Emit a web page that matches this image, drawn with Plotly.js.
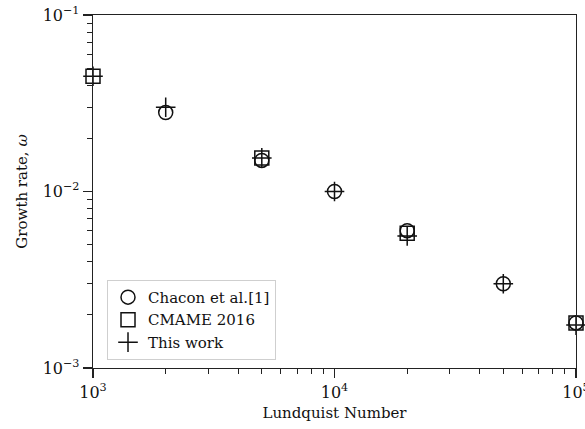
<!DOCTYPE html>
<html>
<head>
<meta charset="utf-8">
<script src="https://cdn.plot.ly/plotly-3.0.1.min.js"></script>
<style>
  html, body { margin: 0; padding: 0; background: #fff; }
  #chart { width: 585px; height: 429px; }
</style>
</head>
<body>
<div id="chart"></div>
<script>
// Growth rate vs. Lundquist number, three data sources
const chaconS = [2000, 5000, 10000, 20000, 50000, 100000];
const chaconW = [0.028, 0.0150, 0.0100, 0.0060, 0.0030, 0.0018];

const cmameS = [1000, 5000, 20000, 100000];
const cmameW = [0.045, 0.0155, 0.0058, 0.0018];

const thisS = [1000, 2000, 5000, 10000, 20000, 50000, 100000];
const thisW = [0.045, 0.030, 0.0155, 0.0100, 0.0056, 0.0030, 0.00175];

const xTickVals = [1e3, 1e4, 1e5];
const xTickText = ['10<sup>3</sup>', '10<sup>4</sup>', '10<sup>5</sup>'];
const yTickVals = [1e-3, 1e-2, 1e-1];
const yTickText = ['10<sup>\u22123</sup>', '10<sup>\u22122</sup>', '10<sup>\u22121</sup>'];

// intermediate ticks 2..9 within each decade
function minorLogTicks(lo, hi) {
  const out = [];
  for (let p = lo; p < hi; p++) {
    for (let d = 2; d <= 9; d++) out.push(d * Math.pow(10, p));
  }
  return out;
}

// a hair of padding so points sitting exactly on a decade edge stay visible
const EPS = 1e-6;
const xRange = [3 - EPS, 5 + EPS];
const yRange = [-3 - EPS, -1 + EPS];

const FONT = 'DejaVu Serif, serif';
const INK = '#111';

const mk = (symbol) => ({
  symbol: symbol, size: 14, color: INK,
  line: { color: INK, width: 1.5 }
});

const traces = [
  { x: chaconS, y: chaconW, name: 'Chacon et al.[1]', mode: 'markers',
    type: 'scatter', cliponaxis: false, marker: mk('circle-open') },
  { x: cmameS, y: cmameW, name: 'CMAME 2016', mode: 'markers',
    type: 'scatter', cliponaxis: false, marker: mk('square-open') },
  { x: thisS, y: thisW, name: 'This work', mode: 'markers',
    type: 'scatter', cliponaxis: false, marker: mk('cross-thin-open') },
  // empty trace carrying the overlay axes used for the short ticks
  { x: [], y: [], xaxis: 'x2', yaxis: 'y2', type: 'scatter', mode: 'markers',
    showlegend: false, hoverinfo: 'skip' }
];

const axisCommon = {
  type: 'log',
  showgrid: false,
  zeroline: false,
  showline: true,
  mirror: true,
  linecolor: '#222',
  linewidth: 1.3,
  ticks: 'outside',
  ticklen: 9,
  tickwidth: 1.2,
  tickcolor: '#222',
  tickmode: 'array',
  ticklabeloverflow: 'allow',
  tickfont: { family: FONT, size: 16, color: INK }
};

const minorAxis = {
  type: 'log',
  showgrid: false,
  zeroline: false,
  showline: false,
  ticks: 'outside',
  ticklen: 5,
  tickwidth: 1,
  tickcolor: '#222',
  tickmode: 'array',
  showticklabels: false
};

const layout = {
  width: 585, height: 429,
  margin: { l: 93, r: 9, t: 15, b: 61 },
  paper_bgcolor: '#fff', plot_bgcolor: '#fff',
  font: { family: FONT, size: 15, color: INK },
  showlegend: true,
  xaxis: Object.assign({}, axisCommon, {
    range: xRange,
    tickvals: xTickVals, ticktext: xTickText,
    title: { text: 'Lundquist Number', font: { family: FONT, size: 15 }, standoff: 7 }
  }),
  yaxis: Object.assign({}, axisCommon, {
    range: yRange,
    tickvals: yTickVals, ticktext: yTickText,
    title: { text: 'Growth rate, <i>\u03c9</i>', font: { family: FONT, size: 15 }, standoff: 11 }
  }),
  xaxis2: Object.assign({}, minorAxis, {
    range: xRange, overlaying: 'x', anchor: 'y2', side: 'bottom',
    tickvals: minorLogTicks(3, 5)
  }),
  yaxis2: Object.assign({}, minorAxis, {
    range: yRange, overlaying: 'y', anchor: 'x2', side: 'left',
    tickvals: minorLogTicks(-3, -1)
  }),
  legend: {
    x: 0.029, y: 0.023, xanchor: 'left', yanchor: 'bottom',
    bgcolor: '#fff', bordercolor: '#cfcfcf', borderwidth: 1,
    font: { family: FONT, size: 15, color: INK },
    tracegroupgap: 0
  }
};

Plotly.newPlot('chart', traces, layout, { displayModeBar: false, staticPlot: true });
</script>
</body>
</html>
